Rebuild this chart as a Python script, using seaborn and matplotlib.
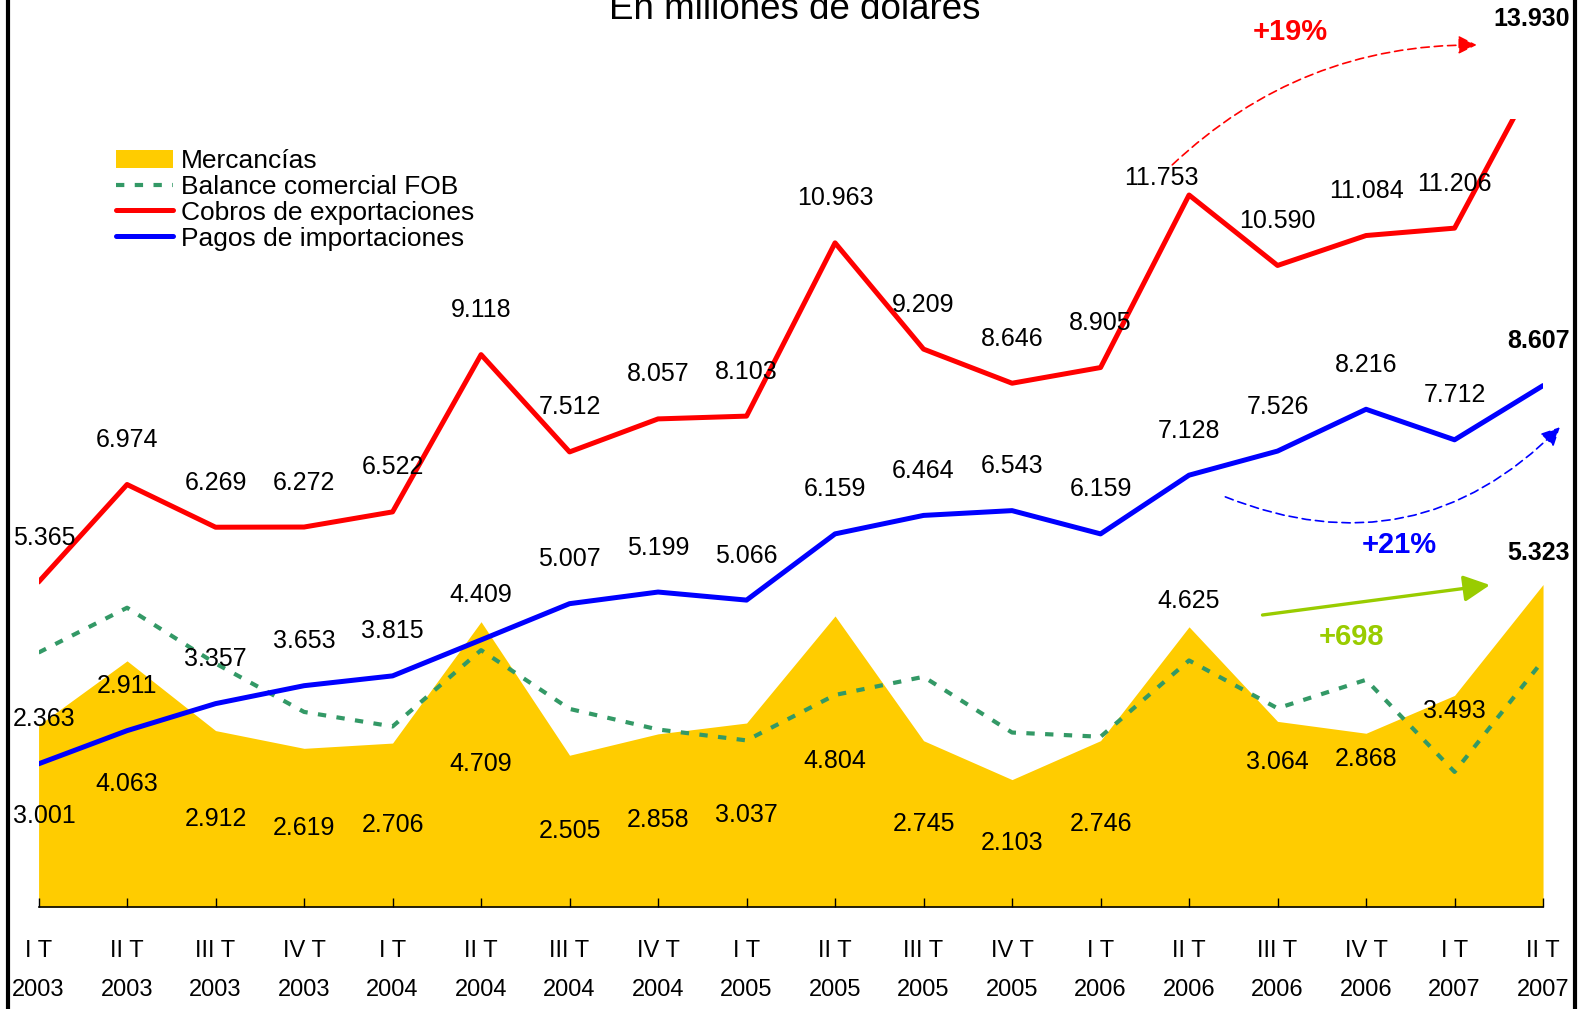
import seaborn as sns
import matplotlib.pyplot as plt
import numpy as np
from matplotlib.lines import Line2D
from matplotlib.patches import Patch

# datos trimestrales, en millones de dolares
trimestres = ["I T", "II T", "III T", "IV T", "I T", "II T", "III T", "IV T", "I T",
              "II T", "III T", "IV T", "I T", "II T", "III T", "IV T", "I T", "II T"]
anios = ["2003", "2003", "2003", "2003", "2004", "2004", "2004", "2004", "2005",
         "2005", "2005", "2005", "2006", "2006", "2006", "2006", "2007", "2007"]
cobros = [5365, 6974, 6269, 6272, 6522, 9118, 7512, 8057, 8103,
          10963, 9209, 8646, 8905, 11753, 10590, 11084, 11206, 13930]
pagos = [2363, 2911, 3357, 3653, 3815, 4409, 5007, 5199, 5066,
         6159, 6464, 6543, 6159, 7128, 7526, 8216, 7712, 8607]
mercancias = [3001, 4063, 2912, 2619, 2706, 4709, 2505, 2858, 3037,
              4804, 2745, 2103, 2746, 4625, 3064, 2868, 3493, 5323]
balance_fob = [4200, 4940, 4020, 3220, 2980, 4240, 3270, 2930, 2750,
               3500, 3800, 2880, 2810, 4070, 3280, 3750, 2230, 4070]

AMARILLO = "#FFCC00"
VERDE = "#339966"
ROJO = "#FF0000"
AZUL = "#0000FF"
VERDE_CLARO = "#99CC00"


def fmt(v):
    return f"{v:,}".replace(",", ".")


def main():
    sns.set_style("white")
    plt.rcParams['font.family'] = ['Liberation Sans', 'DejaVu Sans']
    plt.rcParams.update({"text.color": "black", "xtick.color": "black",
                         "xtick.labelcolor": "black"})

    x = np.arange(len(cobros))
    fig = plt.figure(figsize=(15.87, 10.09), dpi=100)
    ax = fig.add_axes([0.0243, 0.1011, 0.948, 0.7805])

    ax.fill_between(x, 0, mercancias, color=AMARILLO, lw=0, zorder=1)
    sns.lineplot(x=x, y=balance_fob, color=VERDE, lw=3, ax=ax, zorder=2)
    ax.lines[-1].set_dashes((2, 2.5))
    sns.lineplot(x=x, y=pagos, color=AZUL, lw=3.6, ax=ax, zorder=3)
    sns.lineplot(x=x, y=cobros, color=ROJO, lw=3.6, ax=ax, zorder=3)

    ax.set_xlim(0, len(x) - 1)
    ax.set_ylim(0, 13000)
    ax.set_axisbelow(False)
    for s in ["top", "right", "left"]:
        ax.spines[s].set_visible(False)
    ax.spines["bottom"].set_color("black")
    ax.spines["bottom"].set_linewidth(1.2)
    ax.set_yticks([])
    ax.set_xticks(x)
    ax.set_xticklabels([f"{t}\n{a}" for t, a in zip(trimestres, anios)],
                       fontsize=17, linespacing=1.97, color="black")
    # las marcas del eje van hacia dentro, sobre el area amarilla
    ax.tick_params(axis="x", direction="in", length=6.5, width=1, pad=24,
                   bottom=True, color="black")
    ax.set_xlabel("")
    ax.set_ylabel("")

    n = len(x) - 1
    # etiquetas de cobros y pagos, por encima de cada punto
    for serie in [cobros, pagos]:
        for i, v in enumerate(serie):
            dx, dy, ha, peso = 0, 32, "center", "normal"
            if i == 0:
                dx = 4
            if i == n:
                dx, ha, peso = 19, "right", "bold"
            if serie is cobros and i == 13:
                dx, dy = -20, 12
            ax.annotate(fmt(v), xy=(i, v), xytext=(dx, dy), textcoords="offset points",
                        ha=ha, va="center", fontsize=18, fontweight=peso,
                        annotation_clip=False, zorder=5)

    # etiquetas de mercancias, al centro del area (las ultimas movidas a mano)
    ajustes = {13: 5050, 14: 2400, 15: 2450, 16: 3230, 17: 5840}
    for i, v in enumerate(mercancias):
        y = ajustes.get(i, v / 2)
        dx, ha, peso = 0, "center", "normal"
        if i == 0:
            dx = 4
        if i == n:
            dx, ha, peso = 19, "right", "bold"
        ax.annotate(fmt(v), xy=(i, y), xytext=(dx, 0), textcoords="offset points",
                    ha=ha, va="center", fontsize=18, fontweight=peso,
                    annotation_clip=False, zorder=5)

    # flechas de variacion interanual
    var_cobros = round((cobros[n] / cobros[13] - 1) * 100)
    var_pagos = round((pagos[n] / pagos[13] - 1) * 100)
    var_merc = mercancias[n] - mercancias[13]

    ax.annotate("", xy=(16.25, 14230), xytext=(12.81, 12250),
                arrowprops=dict(arrowstyle="-|>,head_length=0.7,head_width=0.35",
                                mutation_scale=16, color=ROJO, lw=1.2, ls=(0, (5, 3)),
                                connectionstyle="arc3,rad=-0.2", shrinkA=0, shrinkB=0),
                annotation_clip=False)
    ax.text(14.14, 14444, f"+{var_cobros}%", color=ROJO, fontsize=21, fontweight="bold",
            ha="center", va="center", clip_on=False)

    ax.annotate("", xy=(17.19, 7920), xytext=(13.41, 6770),
                arrowprops=dict(arrowstyle="-|>,head_length=0.7,head_width=0.35",
                                mutation_scale=16, color=AZUL, lw=1.2, ls=(0, (5, 3)),
                                connectionstyle="arc3,rad=0.33", shrinkA=0, shrinkB=0),
                annotation_clip=False)
    ax.text(15.38, 5976, f"+{var_pagos}%", color=AZUL, fontsize=21, fontweight="bold",
            ha="center", va="center", clip_on=False)

    ax.annotate("", xy=(16.40, 5315), xytext=(13.83, 4820),
                arrowprops=dict(arrowstyle="-|>,head_length=0.8,head_width=0.4",
                                mutation_scale=20, color=VERDE_CLARO, lw=2.4,
                                shrinkA=0, shrinkB=0),
                annotation_clip=False)
    ax.text(14.84, 4457, f"+{var_merc}", color=VERDE_CLARO, fontsize=21, fontweight="bold",
            ha="center", va="center", clip_on=False)

    # leyenda
    handles = [Patch(facecolor=AMARILLO, edgecolor="none"),
               Line2D([], [], color=VERDE, lw=3, dashes=(2, 2.5)),
               Line2D([], [], color=ROJO, lw=3.6),
               Line2D([], [], color=AZUL, lw=3.6)]
    etiquetas = ["Mercancías", "Balance comercial FOB",
                 "Cobros de exportaciones", "Pagos de importaciones"]
    ax.legend(handles, etiquetas, loc="upper left", bbox_to_anchor=(116 / 1587, 1 - 149 / 1009),
              bbox_transform=fig.transFigure, frameon=False, fontsize=19,
              labelspacing=0.07, handlelength=2.15, handletextpad=0.3,
              borderpad=0, borderaxespad=0)

    fig.text(795 / 1587, 1 - 19 / 1009, "En millones de dólares", ha="center",
             va="baseline", fontsize=26.5)

    # marco lateral
    fig.add_artist(Line2D([8 / 1587, 8 / 1587], [0, 1], transform=fig.transFigure,
                          color="black", lw=3))
    fig.add_artist(Line2D([1575 / 1587, 1575 / 1587], [0, 1], transform=fig.transFigure,
                          color="black", lw=3))

    fig.savefig("out.png", dpi=100, facecolor="white")


main()
